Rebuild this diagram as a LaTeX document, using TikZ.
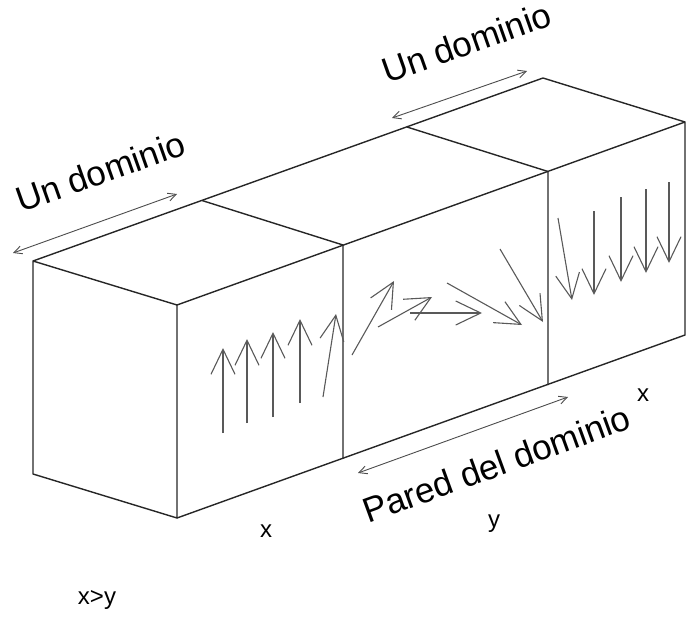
\documentclass[tikz,border=0pt]{standalone}
\usepackage{fontspec}
\setmainfont{Liberation Sans}
\usepackage{tikz}
\usetikzlibrary{arrows.meta}
\tikzstyle{boxline} = [line width=1.4pt, draw=black!85, line join=round]
\tikzstyle{spin} = [line width=1.1pt, draw=black!65, -{Straight Barb[length=25pt,width=24pt]}]
\tikzstyle{span} = [line width=0.9pt, draw=black!70, {Straight Barb[length=8pt,width=8pt]}-{Straight Barb[length=8pt,width=8pt]}]
\tikzset{domain label/.style={font=\fontsize{35}{38}\selectfont, inner sep=0pt, anchor=base west, rotate=19.5}}
\tikzset{axis label/.style={font=\fontsize{24}{26}\selectfont, inner sep=0pt}}

\begin{document}
\begin{tikzpicture}[x=1pt,y=-1pt]
\useasboundingbox (0,0) rectangle (686,619);

% corners of the bar
\coordinate (k0) at (33,261);
\coordinate (k1) at (202,200.5);
\coordinate (k2) at (407,127);
\coordinate (k3) at (543,78);
\coordinate (k4) at (33,474);
\coordinate (t0) at (177,305);
\coordinate (t1) at (343,245);
\coordinate (t2) at (548,171.5);
\coordinate (t3) at (685,122);
\coordinate (b0) at (177,518);
\coordinate (b1) at (343,458.5);
\coordinate (b2) at (548,385);
\coordinate (b3) at (685,335);

\draw[boxline] (k0) -- (t0) -- (b0) -- (k4) -- cycle;
\draw[boxline] (t0) -- (t3) -- (b3) -- (b0);
\draw[boxline] (k0) -- (k3) -- (t3);
\draw[boxline] (k1) -- (t1) -- (b1);
\draw[boxline] (k2) -- (t2) -- (b2);

% domain widths
\coordinate (la) at (13,253);
\coordinate (lb) at (177,194);
\coordinate (ua) at (392,118);
\coordinate (ub) at (527,71);
\coordinate (wa) at (358,473);
\coordinate (wb) at (568,397);
\draw[span] (la) -- (lb);
\draw[span] (ua) -- (ub);
\draw[span] (wa) -- (wb);

\node[domain label] (left) at (21,213) {Un dominio};
\node[domain label] (upper) at (387,84) {Un dominio};
\node[domain label, rotate=0.5] (wall) at (368,524) {Pared del dominio};

% spins
\draw[spin] (223,433) -- (223,348);
\draw[spin] (247,423) -- (247,339);
\draw[spin] (273,417) -- (273,332);
\draw[spin] (300,403) -- (300,319);
\draw[spin] (323,397) -- (336,314);

\draw[spin] (352,355) -- (394,281);
\draw[spin] (378,327) -- (432,297);
\draw[spin] (410,313) -- (482,313);
\draw[spin] (447,283) -- (522,325);
\draw[spin] (500,249) -- (543,322);

\draw[spin] (558,218) -- (572,300);
\draw[spin] (594,211) -- (594,295);
\draw[spin] (621,197) -- (621,282);
\draw[spin] (646,189) -- (646,273);
\draw[spin] (669,182) -- (669,263);

\node[axis label] (xa) at (266,531) {x};
\node[axis label] (ya) at (494,524) {y};
\node[axis label] (xb) at (643,395) {x};
\node[axis label] (cmp) at (97,600) {x>y};
\end{tikzpicture}
\end{document}
